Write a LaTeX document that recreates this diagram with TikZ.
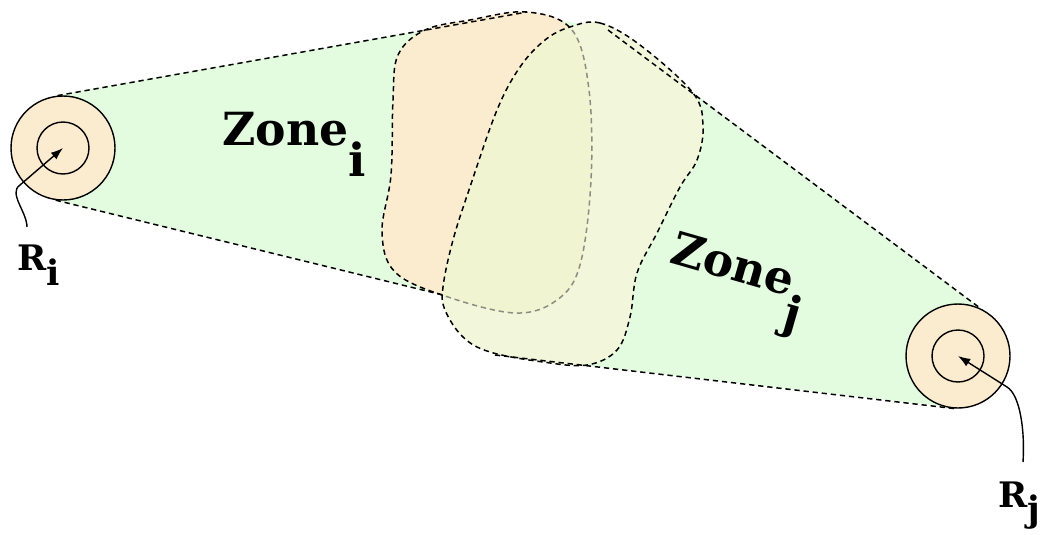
\documentclass[tikz,border=0pt]{standalone}
\usepackage{fontspec}
\setmainfont{DejaVu Serif}
\usetikzlibrary{arrows.meta,positioning,calc}
\definecolor{hullgreen}{rgb}{0.89,0.99,0.88}
\definecolor{zoneorange}{rgb}{0.99,0.925,0.81}
\definecolor{zonelime}{rgb}{0.95,0.97,0.86}
\definecolor{overlap}{rgb}{0.94,0.955,0.815}
\definecolor{dashgray}{rgb}{0.55,0.55,0.5}

\begin{document}
\begin{tikzpicture}[
      x=0.02cm, y=-0.02cm,
      ring/.style={circle, draw, line width=0.8pt, fill=zoneorange, minimum size=2.08cm, inner sep=0pt},
      core/.style={circle, draw, line width=0.8pt, minimum size=1.04cm, inner sep=0pt},
      hull/.style={dash pattern=on 3pt off 2.2pt, line width=0.85pt},
      zone/.style={font=\fontsize{26}{30}\selectfont\bfseries, inner sep=0pt, anchor=base west},
      rlabel/.style={font=\fontsize{20}{24}\selectfont\bfseries, inner sep=0pt},
      arrow/.style={-{Latex[length=7pt,width=5pt]}, line width=0.8pt}
    ]
      \useasboundingbox (0,0) rectangle (1043,534);

      % green hull
      \fill[hullgreen] (57,95) -- (527,12) -- (560,20) -- (610,30) -- (980,308) -- (958,356)
        -- (958,408) -- (495,355) -- (443,295) -- (55,200) -- (63,148) -- cycle;

      % the two zones
      \path[save path=\zoneIpath] plot[smooth cycle, tension=0.6] coordinates {
        (527,12) (572,30) (589,90) (591,180) (580,265) (557,300) (515,313) (445,296)
        (395,272) (382,232) (391,175) (393,100) (398,55) (425,30) (470,20)};
      \path[save path=\zoneJpath] plot[smooth cycle, tension=0.6] coordinates {
        (570,27) (600,23) (640,45) (693,93) (703,127) (697,160) (680,187) (657,233)
        (637,273) (630,317) (617,350) (587,365) (543,362) (490,352) (463,337) (445,310)
        (443,287) (453,240) (470,187) (497,110) (520,67) (545,40)};
      \path[use path=\zoneIpath, fill=zoneorange, draw, hull];
      \path[use path=\zoneJpath, fill=zonelime];
      \begin{scope}
        \clip[use path=\zoneJpath];
        \path[use path=\zoneIpath, fill=overlap, draw=dashgray, hull];
      \end{scope}
      \path[use path=\zoneJpath, draw, hull];

      % rings
      \node[ring] (Ri) at (63,148) {};
      \node[core] (Ric) at (Ri.center) {};
      \node[ring] (Rj) at (958,356) {};
      \node[core] (Rjc) at (Rj.center) {};

      % hull edges
      \coordinate (topI) at (527,12);
      \coordinate (topJ) at (608,30);
      \coordinate (botI) at (443,295);
      \coordinate (botJ) at (495,355);
      \draw[hull] (Ri.96) -- (topI);
      \draw[hull] (topJ) -- (Rj.65);
      \draw[hull] (Ri.262) -- (botI);
      \draw[hull] (botJ) -- (Rj.266);

      % labels
      \node[zone] (zi) at (222,145) {Zone\raisebox{-0.68em}{i}};
      \node[zone, rotate=-16] (zj) at (668,262) {Zone\raisebox{-0.68em}{j}};
      \node[rlabel, anchor=base west] (li) at (17,270) {R\raisebox{-0.45em}{i}};
      \node[rlabel, anchor=base east] (lj) at (1041,507) {R\raisebox{-0.4em}{j}};

      % pointers
      \coordinate (tailI) at (27,227);
      \coordinate (tailJ) at (1023,462);
      \draw[arrow] (tailI) .. controls (27,212) and (8,193) .. (20,185) -- (Ri.center);
      \draw[arrow] (tailJ) .. controls (1025,430) and (1020,395) .. (1007,387) -- (Rj.center);
    \end{tikzpicture}
\end{document}
